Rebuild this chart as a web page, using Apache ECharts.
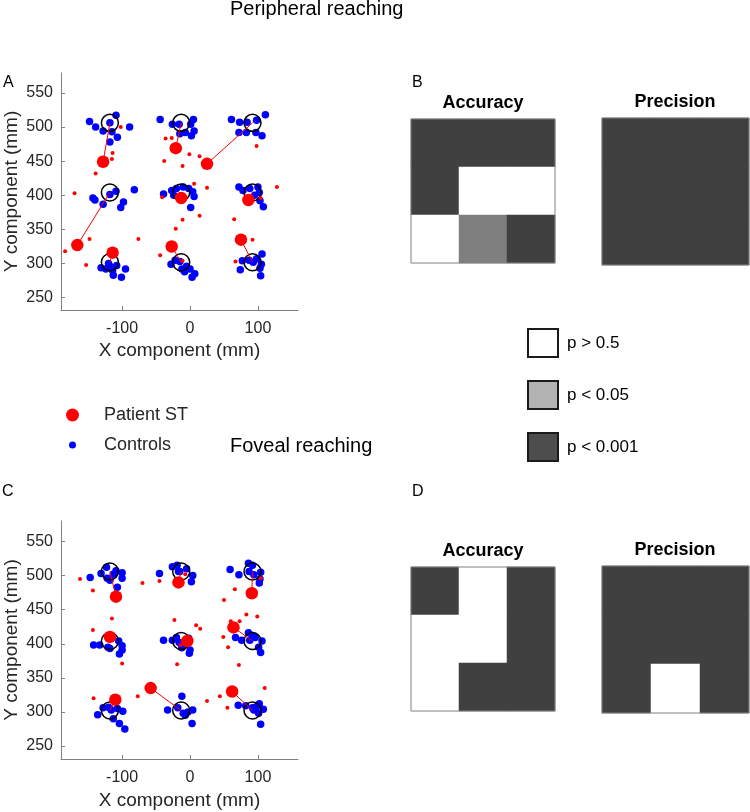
<!DOCTYPE html>
<html><head><meta charset="utf-8">
<script src="https://cdn.jsdelivr.net/npm/echarts@6/dist/echarts.min.js"></script>
<style>html,body{margin:0;padding:0;background:#fff}#c{width:750px;height:812px}</style>
</head><body><div id="c"></div>
<script>
// ---- data ----
const targetX = [-118, -13, 92];
const targetY = [506, 404, 302];
const xTicks = [-100, 0, 100];
const yTicks = [250, 300, 350, 400, 450, 500, 550];

// Peripheral reaching (A)
const controlsA = [
  [-148,508],[-139,500],[-128,494],[-118,506],[-109,517],[-115,493],[-107,485],[-118,478],[-89,500],
  [-44,511],[-26,504],[-16,504],[5,511],[1,504],[-7,492],[6,494],[2,487],[-15,490],
  [61,511],[73,507],[84,507],[98,510],[111,518],[72,492],[83,492],[97,492],[106,487],
  [-143,396],[-140,393],[-128,387],[-109,406],[-82,408],[-98,390],[-102,382],[-118,401],
  [-39,402],[-27,407],[-20,410],[-10,412],[-2,410],[4,405],[6,398],[1,382],[-24,400],
  [72,412],[78,407],[88,410],[100,412],[102,404],[103,392],[108,383],[95,400],
  [-131,294],[-124,292],[-118,296],[-114,290],[-108,297],[-95,292],[-113,283],[-101,280],[-120,300],
  [-28,299],[-22,305],[-15,303],[-12,292],[-5,296],[0,292],[7,285],[3,280],[-8,288],
  [74,291],[77,304],[87,305],[98,307],[106,314],[105,299],[103,293],[104,282],[93,302]
];
const trialsA = [
  [-102,500],[-114,462],[-115,453],[-139,432],
  [-36,483],[-27,484],[-1,460],[14,457],[-38,450],[-11,443],
  [98,472],
  [-170,403],[-148,336],[-76,336],[-184,318],[-153,298],
  [6,417],[25,411],[14,370],[-11,364],[-21,351],[-41,397],
  [104,396],[128,412],[65,365],
  [-44,312],[-11,304],
  [67,303],[92,335]
];
const meansA = [[-128,449],[-21,469],[25,446],[-166,327],[-13,396],[86,393],[-114,316],[-27,325],[75,335]];

// Foveal reaching (C)
const controlsC = [
  [-147,497],[-131,503],[-123,512],[-122,496],[-118,493],[-109,507],[-100,504],[-100,496],[-107,483],[-113,502],
  [-45,503],[-26,513],[-19,515],[-15,506],[-5,510],[4,500],[2,491],[-17,506],
  [59,509],[72,501],[86,518],[92,515],[87,506],[94,501],[104,505],[102,489],[103,495],
  [-142,398],[-133,398],[-121,395],[-118,393],[-105,404],[-100,397],[-100,391],[-104,385],[-116,409],
  [-39,405],[-26,405],[-20,409],[-16,402],[-12,398],[-2,408],[0,391],[-1,386],[-12,394],
  [67,409],[76,405],[86,416],[92,412],[96,409],[101,395],[106,404],[104,387],[88,405],
  [-136,296],[-128,306],[-120,307],[-116,303],[-107,305],[-99,301],[-113,290],[-104,283],[-96,275],
  [-33,303],[-12,323],[-7,295],[4,303],[3,283],[-3,300],[-18,306],[-10,298],
  [71,310],[82,309],[92,306],[98,308],[102,312],[108,304],[101,298],[104,282],[94,303]
];
const trialsC = [
  [-162,495],[-143,478],[-70,489],[-45,492],[-7,502],[104,496],[66,480],[50,464],
  [-115,437],[-143,420],[-100,371],
  [-23,435],[9,427],[15,422],[-19,370],[-14,398],
  [60,433],[73,433],[83,443],[99,440],[49,410],[56,395],[72,369],
  [-142,320],
  [-77,323],[25,316],
  [44,323],[55,306],[110,335]
];
const meansC = [[-109,469],[-17,490],[91,474],[-118,410],[-4,404],[64,424],[-110,318],[-58,335],[62,330]];

// significance maps (0: p > 0.5, 1: p < 0.05, 2: p < 0.001), rows top to bottom
const heatCols = ['c1','c2','c3'];
const heatRows = ['r1','r2','r3'];
const accuracyB  = [[2,2,2],[2,0,0],[0,1,2]];
const precisionB = [[2,2,2],[2,2,2],[2,2,2]];
const accuracyD  = [[2,0,2],[0,0,2],[0,2,2]];
const precisionD = [[2,2,2],[2,2,2],[2,0,2]];
const pLevels = ['p > 0.5', 'p < 0.05', 'p < 0.001'];

// ---- chart ----
const FONT = 'Liberation Sans, Arial, Helvetica, sans-serif';
const targets = [];
targetY.forEach(y => targetX.forEach(x => targets.push([x, y])));
const toCells = m => m.flatMap((row, r) => row.map((v, c) => [c, r, v]));

function valueAxes(gi, min, max, isX, name, nameGap) {
  return {
    type: 'value', gridIndex: gi, min: min, max: max,
    axisLine: {show: true, onZero: false, lineStyle: {color: '#808080', width: 1}},
    axisTick: {show: true, inside: true, length: 4, customValues: isX ? xTicks : yTicks, lineStyle: {color: '#808080'}},
    axisLabel: {customValues: isX ? xTicks : yTicks, fontSize: 16, color: '#262626', margin: isX ? 11 : 8, fontFamily: FONT},
    splitLine: {show: false},
    name: name, nameLocation: 'middle', nameGap: nameGap,
    nameTextStyle: {fontSize: 19, color: '#262626', fontFamily: FONT}
  };
}
const catX = gi => ({type: 'category', gridIndex: gi, data: heatCols, show: false});
const catY = gi => ({type: 'category', gridIndex: gi, data: heatRows, inverse: true, show: false});

function scatterSet(ai, controls, trials, means) {
  return [
    {type: 'scatter', name: 'Controls', xAxisIndex: ai, yAxisIndex: ai, data: controls, symbol: 'circle', symbolSize: 7.5,
     itemStyle: {color: '#0000ff', opacity: 1}, z: 2, silent: true},
    {type: 'scatter', name: 'targets', xAxisIndex: ai, yAxisIndex: ai, data: targets, symbol: 'circle', symbolSize: 17,
     itemStyle: {color: 'rgba(0,0,0,0)', borderColor: '#000', borderWidth: 1.5, opacity: 1}, z: 3, silent: true},
    {type: 'lines', coordinateSystem: 'cartesian2d', xAxisIndex: ai, yAxisIndex: ai,
     data: means.map((m, i) => ({coords: [m, targets[i]]})),
     lineStyle: {color: '#ff0000', width: 1, opacity: 1}, z: 4, silent: true},
    {type: 'scatter', name: 'trials', xAxisIndex: ai, yAxisIndex: ai, data: trials, symbol: 'circle', symbolSize: 4,
     itemStyle: {color: '#ff0000', opacity: 1}, z: 5, silent: true},
    {type: 'scatter', name: 'Patient ST', xAxisIndex: ai, yAxisIndex: ai, data: means, symbol: 'circle', symbolSize: 12.5,
     itemStyle: {color: '#ff0000', opacity: 1}, z: 6, silent: true}
  ];
}

const heatSeries = [
  [2, accuracyB], [3, precisionB], [4, accuracyD], [5, precisionD]
].map(([ai, m]) => ({type: 'heatmap', xAxisIndex: ai, yAxisIndex: ai, data: toCells(m), silent: true,
  itemStyle: {borderWidth: 0}, emphasis: {disabled: true}}));

const pColors = ['#ffffff', '#b3b3b3', '#4d4d4d'];
const dummySeries = pLevels.map((p, i) => ({type: 'scatter', name: p, xAxisIndex: 0, yAxisIndex: 0, data: [],
  itemStyle: {color: pColors[i], opacity: 1}}));

const series = [].concat(scatterSet(0, controlsA, trialsA, meansA), scatterSet(1, controlsC, trialsC, meansC));
const heatStart = series.length;
series.push(...heatSeries);
series.push(...dummySeries);

const tStyle = (size, weight) => ({fontSize: size, fontWeight: weight || 'normal', color: '#000', fontFamily: FONT});
const heatGrid = (l, t, s) => ({left: l, top: t, width: s, height: s, show: true, borderColor: '#808080', borderWidth: 1,
  backgroundColor: 'rgba(0,0,0,0)', z: 10});

const option = {
  animation: false,
  backgroundColor: '#ffffff',
  textStyle: {fontFamily: FONT},
  title: [
    {text: 'Peripheral reaching', left: 230, top: -1, padding: 0, textStyle: tStyle(20)},
    {text: 'Foveal reaching', left: 230, top: 436, padding: 0, textStyle: tStyle(20)},
    {text: 'A', left: 3, top: 75, padding: 0, textStyle: tStyle(16)},
    {text: 'B', left: 412, top: 75, padding: 0, textStyle: tStyle(16)},
    {text: 'C', left: 2, top: 484, padding: 0, textStyle: tStyle(16)},
    {text: 'D', left: 412, top: 484, padding: 0, textStyle: tStyle(16)},
    {text: 'Accuracy', left: 483, textAlign: 'center', top: 94, padding: 0, textStyle: tStyle(18, 'bold')},
    {text: 'Precision', left: 675, textAlign: 'center', top: 93.5, padding: 0, textStyle: tStyle(18, 'bold')},
    {text: 'Accuracy', left: 483, textAlign: 'center', top: 542, padding: 0, textStyle: tStyle(18, 'bold')},
    {text: 'Precision', left: 675, textAlign: 'center', top: 541, padding: 0, textStyle: tStyle(18, 'bold')}
  ],
  grid: [
    {left: 61, top: 73, width: 237, height: 237},
    {left: 61, top: 521, width: 237, height: 238},
    heatGrid(411, 119, 144),
    heatGrid(602, 118, 147),
    heatGrid(411, 567, 144),
    heatGrid(602, 566, 147)
  ],
  xAxis: [
    valueAxes(0, -190, 159, true, 'X component (mm)', 31),
    valueAxes(1, -190, 159, true, 'X component (mm)', 32),
    catX(2), catX(3), catX(4), catX(5)
  ],
  yAxis: [
    valueAxes(0, 232, 579, false, 'Y component (mm)', 40),
    valueAxes(1, 231, 580, false, 'Y component (mm)', 40),
    catY(2), catY(3), catY(4), catY(5)
  ],
  visualMap: [{
    type: 'piecewise', show: false, dimension: 2,
    seriesIndex: [heatStart, heatStart + 1, heatStart + 2, heatStart + 3],
    pieces: [{value: 0, color: '#ffffff'}, {value: 1, color: '#7f7f7f'}, {value: 2, color: '#404040'}]
  }],
  legend: [
    {data: [{name: 'Patient ST', icon: 'circle', itemStyle: {color: '#ff0000', opacity: 1}}], left: 66, top: 406, padding: 0,
     itemWidth: 13, itemHeight: 13, selectedMode: false,
     textStyle: {fontSize: 18, color: '#262626', fontFamily: FONT, padding: [0, 0, 0, 20]}},
    {data: [{name: 'Controls', icon: 'circle', itemStyle: {color: '#0000ff', opacity: 1}}], left: 69, top: 436, padding: 0,
     itemWidth: 7, itemHeight: 7, selectedMode: false,
     textStyle: {fontSize: 18, color: '#262626', fontFamily: FONT, padding: [0, 0, 0, 23]}},
    {data: pLevels.map((p, i) => ({name: p, icon: 'rect',
       itemStyle: {color: pColors[i], borderColor: '#1a1a1a', borderWidth: 2, opacity: 1}})),
     orient: 'vertical', left: 527, top: 328, padding: 0, itemWidth: 30, itemHeight: 28, itemGap: 22, selectedMode: false,
     textStyle: {fontSize: 17, color: '#000', fontFamily: FONT, padding: [0, 0, 0, 4]}}
  ],
  series: series
};

const chart = echarts.init(document.getElementById('c'), null, {renderer: 'canvas'});
chart.setOption(option);
</script>
</body></html>
